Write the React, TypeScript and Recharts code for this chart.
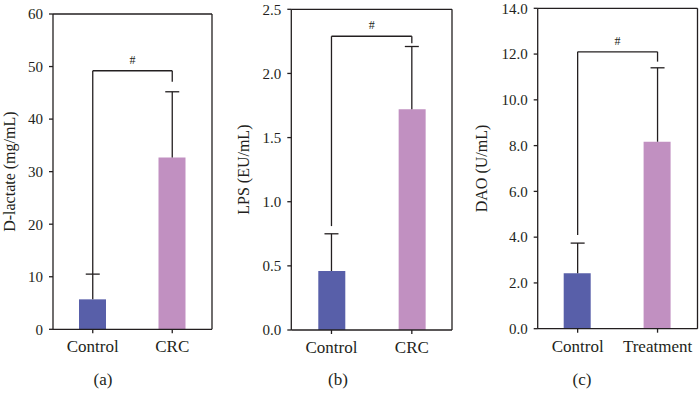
import React from 'react';
import { ComposedChart, Bar, Cell, XAxis, YAxis, Line, ReferenceLine } from 'recharts';

// ---- data ----
const categoriesA = ['Control', 'CRC'];
const meansA = [5.7, 32.7];
const errTopsA = [10.5, 45.2];
const bracketA = [49.2, 10.5, 47.1]; // bracket height, left leg from, right leg from
const ticksA = [0, 10, 20, 30, 40, 50, 60];

const categoriesB = ['Control', 'CRC'];
const meansB = [0.46, 1.72];
const errTopsB = [0.75, 2.21];
const bracketB = [2.29, 0.81, 2.235];
const ticksB = [0, 0.5, 1.0, 1.5, 2.0, 2.5];

const categoriesC = ['Control', 'Treatment'];
const meansC = [2.42, 8.17];
const errTopsC = [3.74, 11.4];
const bracketC = [12.1, 4.09, 11.67];
const ticksC = [0, 2, 4, 6, 8, 10, 12, 14];

const BAR_COLORS = ['#585fa9', '#c190c1'];
const INK = '#231f20';
const FONT = '"Liberation Serif", "Times New Roman", serif';

const CapDot = (props: any) => {
  const { cx, cy, index } = props;
  if (cx == null || cy == null) return <g key={`c-${index}`} />;
  return (
    <line key={`c-${index}`} x1={cx - 7} x2={cx + 7} y1={cy} y2={cy} stroke={INK} strokeWidth={1.3} />
  );
};

const YLabel = (props: any) => {
  const { viewBox, text, dx } = props;
  const vb = viewBox || { x: 0, y: 0, width: 0, height: 0 };
  const x = vb.x + dx;
  const y = vb.y + vb.height / 2;
  return (
    <text
      x={x}
      y={y}
      transform={`rotate(-90 ${x} ${y})`}
      textAnchor="middle"
      dominantBaseline="central"
      fontFamily={FONT}
      fontSize={16}
      fill={INK}
    >
      {text}
    </text>
  );
};

type PanelProps = {
  left: number;
  top: number;
  right: number;
  bottom: number;
  yWidth: number;
  categories: string[];
  means: number[];
  errs: number[];
  bracket: number[];
  ticks: number[];
  decimals: number;
  yLabel: string;
  yLabelDx: number;
};

const Panel = (p: PanelProps) => {
  const data = p.categories.map((c, i) => ({ name: c, value: p.means[i], err: p.errs[i] }));
  const max = p.ticks[p.ticks.length - 1];
  const [bY, bL, bR] = p.bracket;
  const c0 = p.categories[0];
  const c1 = p.categories[1];
  const lineProps = { stroke: INK, strokeWidth: 1.3, ifOverflow: 'visible' as const };
  return (
    <div style={{ position: 'absolute', left: p.left, top: 0 }}>
      <ComposedChart
        width={233}
        height={402}
        data={data}
        margin={{ top: p.top - 1, right: p.right - 1, left: 0, bottom: p.bottom }}
      >
        <XAxis
          dataKey="name"
          height={30}
          tickSize={4}
          tickMargin={7}
          axisLine={{ stroke: INK, strokeWidth: 1.3 }}
          tickLine={{ stroke: INK, strokeWidth: 1.3 }}
          tick={{ fontFamily: FONT, fontSize: 17, fill: INK }}
          interval={0}
        />
        <XAxis
          xAxisId="top"
          orientation="top"
          dataKey="name"
          height={1}
          tick={false}
          tickLine={false}
          axisLine={{ stroke: INK, strokeWidth: 1.3 }}
        />
        <YAxis
          width={p.yWidth}
          domain={[0, max]}
          ticks={p.ticks}
          type="number"
          tickSize={4}
          tickMargin={6}
          interval={0}
          axisLine={{ stroke: INK, strokeWidth: 1.3 }}
          tickLine={{ stroke: INK, strokeWidth: 1.3 }}
          tick={{ fontFamily: FONT, fontSize: 15, fill: INK }}
          tickFormatter={(v: number) => v.toFixed(p.decimals)}
          label={<YLabel text={p.yLabel} dx={p.yLabelDx} />}
        />
        <YAxis
          yAxisId="right"
          orientation="right"
          width={1}
          domain={[0, 1]}
          type="number"
          tick={false}
          tickLine={false}
          axisLine={{ stroke: INK, strokeWidth: 1.3 }}
        />
        <Bar dataKey="value" barSize={27} isAnimationActive={false}>
          {data.map((d, i) => (
            <Cell key={d.name} fill={BAR_COLORS[i]} />
          ))}
        </Bar>
        {data.map((d) => (
          <ReferenceLine
            key={`e-${d.name}`}
            segment={[{ x: d.name, y: d.value }, { x: d.name, y: d.err }]}
            {...lineProps}
          />
        ))}
        <Line
          dataKey="err"
          stroke="none"
          isAnimationActive={false}
          dot={CapDot}
          activeDot={false}
          legendType="none"
        />
        <ReferenceLine segment={[{ x: c0, y: bL }, { x: c0, y: bY }]} {...lineProps} />
        <ReferenceLine segment={[{ x: c1, y: bR }, { x: c1, y: bY }]} {...lineProps} />
        <ReferenceLine
          segment={[{ x: c0, y: bY }, { x: c1, y: bY }]}
          {...lineProps}
          label={{ value: '#', position: 'top', offset: 7, fontFamily: FONT, fontSize: 12, fill: INK }}
        />
      </ComposedChart>
    </div>
  );
};

const letters = [
  { t: '(a)', x: 103 },
  { t: '(b)', x: 338 },
  { t: '(c)', x: 582 },
];

export default function App() {
  return (
    <div style={{ position: 'absolute', left: 0, top: 0, width: 699, height: 402, background: '#fff' }}>
      <Panel
        left={0}
        top={14}
        right={21}
        bottom={42.7}
        yWidth={53}
        categories={categoriesA}
        means={meansA}
        errs={errTopsA}
        bracket={bracketA}
        ticks={ticksA}
        decimals={0}
        yLabel="D-lactate (mg/mL)"
        yLabelDx={10}
      />
      <Panel
        left={233}
        top={9.3}
        right={14}
        bottom={42}
        yWidth={58.3}
        categories={categoriesB}
        means={meansB}
        errs={errTopsB}
        bracket={bracketB}
        ticks={ticksB}
        decimals={1}
        yLabel="LPS (EU/mL)"
        yLabelDx={11}
      />
      <Panel
        left={466}
        top={8.3}
        right={1.5}
        bottom={43.3}
        yWidth={71.7}
        categories={categoriesC}
        means={meansC}
        errs={errTopsC}
        bracket={bracketC}
        ticks={ticksC}
        decimals={1}
        yLabel="DAO (U/mL)"
        yLabelDx={15}
      />
      <svg width={699} height={402} style={{ position: 'absolute', left: 0, top: 0, pointerEvents: 'none' }}>
        {letters.map((l) => (
          <text key={l.t} x={l.x} y={384.5} textAnchor="middle" fontFamily={FONT} fontSize={17} fill={INK}>
            {l.t}
          </text>
        ))}
      </svg>
    </div>
  );
}
